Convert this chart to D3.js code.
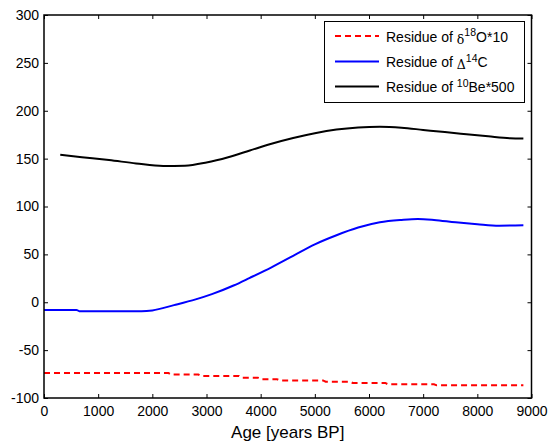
<!DOCTYPE html>
<html>
<head>
<meta charset="utf-8">
<script src="https://cdn.jsdelivr.net/npm/d3@7"></script>
<style>
  html, body { margin: 0; padding: 0; background: #fff; }
  svg { display: block; font-family: "Liberation Sans", Arial, sans-serif; }
</style>
</head>
<body>
<svg id="chart" width="555" height="445"></svg>
<script>
// Age axis ticks and value axis ticks
const xTicks = [0, 1000, 2000, 3000, 4000, 5000, 6000, 7000, 8000, 9000];
const yTicks = [-100, -50, 0, 50, 100, 150, 200, 250, 300];

// Residue of d18O*10 (red, dashed)
const o18Age = [0, 2300, 2350, 2850, 2900, 3600, 3650, 3950, 4000, 4300, 4350, 5150, 5200, 5650, 5700, 6300, 6350, 7200, 7250, 8850];
const o18Val = [-74, -74, -75.5, -75.5, -77, -77, -78.8, -78.8, -80.3, -80.3, -81.6, -81.6, -83, -83, -84.3, -84.3, -85.7, -85.7, -86.8, -86.8];

// Residue of D14C (blue)
const c14Age = [0, 600, 650, 1800, 2000, 2400, 2800, 3100, 3500, 3800, 4200, 4600, 5000, 5400, 5800, 6200, 6600, 6900, 7200, 7600, 8000, 8400, 8850];
const c14Val = [-8, -8, -9.3, -9.3, -8.5, -3, 3, 8.5, 17.5, 25.5, 36.5, 48.5, 60.5, 70, 78, 83.5, 86, 87, 86, 83.5, 81.5, 80, 80.5];

// Residue of 10Be*500 (black)
const beAge = [300, 700, 1200, 1700, 2200, 2600, 3000, 3400, 3800, 4200, 4600, 5000, 5400, 5800, 6200, 6600, 7000, 7400, 7800, 8200, 8600, 8850];
const beVal = [154, 151.5, 148.5, 145, 142.3, 142.6, 146, 151.5, 158.5, 165.5, 171.5, 176.5, 180.3, 182.5, 183.3, 182.3, 180, 177.7, 175.5, 173.3, 171.3, 171];

const margin = { left: 44, right: 23.5, top: 15, bottom: 47 };
const W = 555, H = 445;
const x = d3.scaleLinear().domain([0, 9000]).range([margin.left, W - margin.right]);
const y = d3.scaleLinear().domain([-100, 300]).range([H - margin.bottom, margin.top]);

const svg = d3.select("#chart");

const zip = (a, b) => a.map((v, i) => [v, b[i]]);

const series = [
  { name: "o18", pts: zip(o18Age, o18Val), color: "#ff0000", dash: "6,4", curve: d3.curveLinear },
  { name: "c14", pts: zip(c14Age, c14Val), color: "#0000ff", dash: null, curve: d3.curveMonotoneX },
  { name: "be", pts: zip(beAge, beVal), color: "#000000", dash: null, curve: d3.curveMonotoneX }
];

const plot = svg.append("g");
series.forEach(s => {
  const line = d3.line().x(d => x(d[0])).y(d => y(d[1])).curve(s.curve);
  plot.append("path")
    .datum(s.pts)
    .attr("fill", "none")
    .attr("stroke", s.color)
    .attr("stroke-width", 2)
    .attr("stroke-dasharray", s.dash)
    .attr("d", line);
});

// Axes: ticks drawn inward on all four sides of the box
const tickLen = 4;
const plain = d => String(d).replace("\u2212", "-");
const axBottom = d3.axisBottom(x).tickValues(xTicks).tickSizeInner(-tickLen).tickSizeOuter(0).tickPadding(8).tickFormat(plain);
const axTop = d3.axisTop(x).tickValues(xTicks).tickSizeInner(-tickLen).tickSizeOuter(0).tickFormat("");
const axLeft = d3.axisLeft(y).tickValues(yTicks).tickSizeInner(-tickLen).tickSizeOuter(0).tickPadding(5).tickFormat(plain);
const axRight = d3.axisRight(y).tickValues(yTicks).tickSizeInner(-tickLen).tickSizeOuter(0).tickFormat("");

function style(g) {
  g.selectAll("text").attr("font-size", 14).attr("fill", "#000").attr("font-family", "Liberation Sans, Arial, sans-serif");
  g.selectAll("line").attr("stroke", "#000");
  g.select(".domain").remove();
}
svg.append("g").attr("transform", `translate(0,${y(-100)})`).call(axBottom).call(style);
svg.append("g").attr("transform", `translate(0,${y(300)})`).call(axTop).call(style);
svg.append("g").attr("transform", `translate(${x(0)},0)`).call(axLeft).call(style);
svg.append("g").attr("transform", `translate(${x(9000)},0)`).call(axRight).call(style);

// Plot frame
svg.append("rect")
  .attr("x", x(0)).attr("y", y(300))
  .attr("width", x(9000) - x(0)).attr("height", y(-100) - y(300))
  .attr("fill", "none").attr("stroke", "#000").attr("stroke-width", 1.5);

// Axis title
svg.append("text")
  .attr("x", (x(0) + x(9000)) / 2).attr("y", 438)
  .attr("text-anchor", "middle").attr("font-size", 17)
  .text("Age [years BP]");

// Legend
const legend = svg.append("g");
legend.append("rect")
  .attr("x", 324.5).attr("y", 21.5).attr("width", 200).attr("height", 81)
  .attr("fill", "#fff").attr("stroke", "#000").attr("stroke-width", 1);

const legendRows = [
  { s: series[0], y: 36, parts: [["Residue of ", null], ["\u03B4", "sym"], ["18", "sup"], ["O*10", null]] },
  { s: series[1], y: 61.5, parts: [["Residue of ", null], ["\u0394", "sym"], ["14", "sup"], ["C", null]] },
  { s: series[2], y: 86.5, parts: [["Residue of ", null], ["10", "sup"], ["Be*500", null]] }
];
legendRows.forEach(r => {
  legend.append("line")
    .attr("x1", 335).attr("x2", 379).attr("y1", r.y).attr("y2", r.y)
    .attr("stroke", r.s.color).attr("stroke-width", 2)
    .attr("stroke-dasharray", r.s.dash);
  const t = legend.append("text")
    .attr("x", 386).attr("y", r.y + 5.5).attr("font-size", 14);
  // running vertical offset so each piece sits at its own baseline
  let cur = 0;
  r.parts.forEach(([txt, kind]) => {
    const ts = t.append("tspan").text(txt);
    let target = 0;
    if (kind === "sup") { ts.attr("font-size", 10.5); target = -5.5; }
    if (kind === "sym") { ts.attr("font-family", "DejaVu Serif, serif").attr("font-size", 12.5); target = 2; }
    ts.attr("dy", target - cur);
    cur = target;
  });
});
</script>
</body>
</html>
